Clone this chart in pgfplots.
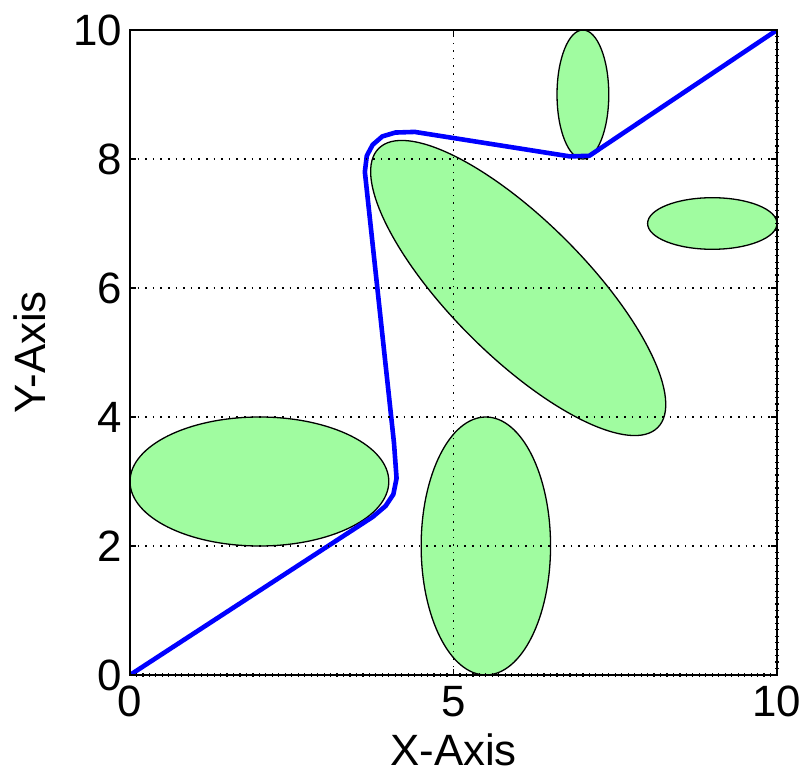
\documentclass[border=0pt]{standalone}
\usepackage{fontspec}
\setmainfont{Liberation Sans}
\usepackage{pgfplots}
\pgfplotsset{compat=1.18}
\definecolor{obst}{RGB}{160,252,160}
\begin{document}
\begin{tikzpicture}
\begin{axis}[
  name=ax,
  scale only axis,
  width=647bp, height=645bp,
  xmin=0, xmax=10, ymin=0, ymax=10,
  xtick={0,5,10}, ytick={0,2,4,6,8,10},
  tick align=inside,
  major tick length=6bp,
  grid=major,
  major grid style={black, line width=1.6bp, dash pattern=on 1.6bp off 6bp},
  axis line style={line width=1.8bp},
  every tick/.style={black, line width=1.6bp},
  axis on top,
  /pgf/number format/assume math mode=true,
  tick label style={font=\fontsize{44}{50}\selectfont},
  label style={font=\fontsize{44}{50}\selectfont},
  xticklabel style={anchor=north, inner sep=0pt, yshift=-11bp},
  yticklabel style={anchor=east, inner sep=0pt, xshift=-8bp},
  xlabel={X-Axis}, ylabel={Y-Axis},
  xlabel style={at={(rel axis cs:0.5,-0.0915)}, anchor=north, inner sep=0pt},
  ylabel style={at={(rel axis cs:-0.1546,0.5)}, anchor=center, inner sep=0pt},
]
\draw[fill=obst, draw=black, line width=1.3bp] (axis cs:2,3) ellipse [x radius=2, y radius=1];
\draw[fill=obst, draw=black, line width=1.3bp] (axis cs:5.5,2) ellipse [x radius=1, y radius=2];
\draw[fill=obst, draw=black, line width=1.3bp] (axis cs:7,9) ellipse [x radius=0.4, y radius=1];
\draw[fill=obst, draw=black, line width=1.3bp] (axis cs:9,7) ellipse [x radius=1, y radius=0.4];
\draw[fill=obst, draw=black, line width=1.3bp, rotate around={-45:(axis cs:6,6)}] (axis cs:6,6) ellipse [x radius=3.05, y radius=1.05];
\addplot[color={rgb,255:red,0;green,0;blue,255}, line width=4.6bp, line join=round, mark=none] coordinates {
(0,0) (3.75,2.45) (3.95,2.62) (4.07,2.80) (4.12,3.05) (4.08,3.60) (3.63,7.80)
(3.66,8.05) (3.75,8.22) (3.90,8.35) (4.10,8.41) (4.40,8.42) (6.80,8.04) (7.10,8.05) (10,10)
};
\end{axis}
\begin{axis}[
  scale only axis,
  width=647bp, height=645bp,
  at={(ax.south west)}, anchor=south west,
  xmin=0, xmax=10, ymin=0, ymax=10,
  axis x line*=bottom, axis y line*=right,
  xtick={0,5,10}, ytick={0,2,4,6,8,10},
  minor x tick num=49, minor y tick num=19,
  xticklabels={}, yticklabels={},
  major tick length=0pt, minor tick length=4bp,
  tick align=center,
  axis line style={line width=1.8bp},
  every tick/.style={black, line width=1.2bp},
]
\end{axis}
\pgfresetboundingbox
\path[use as bounding box] ([shift={(-130bp,-99bp)}]ax.south west) rectangle ([shift={(671bp,675bp)}]ax.south west);
\end{tikzpicture}
\end{document}
